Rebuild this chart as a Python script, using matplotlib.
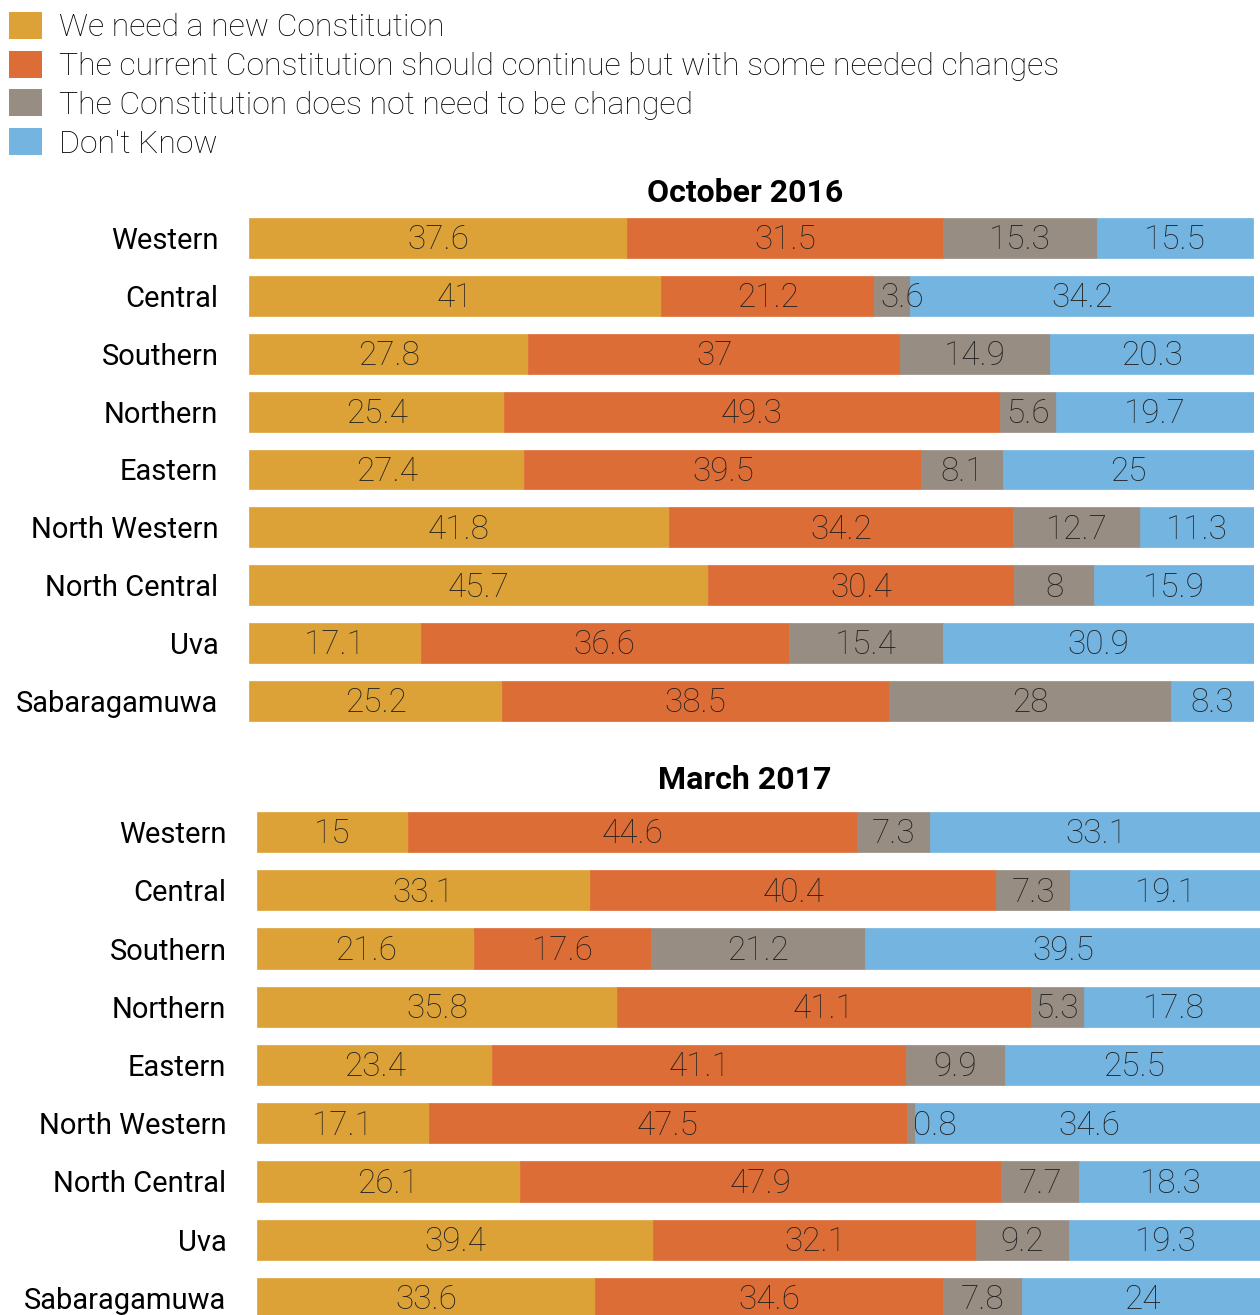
import matplotlib
matplotlib.use("Agg")
import matplotlib.pyplot as plt
from matplotlib.patches import Patch
import numpy as np

plt.rcParams['font.family'] = ['Roboto', 'DejaVu Sans']

series = ["We need a new Constitution",
          "The current Constitution should continue but with some needed changes",
          "The Constitution does not need to be changed",
          "Don't Know"]
colors = ["#DCA237", "#DD6D36", "#978D83", "#74B4E0"]
regions = ["Western", "Central", "Southern", "Northern", "Eastern",
           "North Western", "North Central", "Uva", "Sabaragamuwa"]

oct_new = [37.6, 41, 27.8, 25.4, 27.4, 41.8, 45.7, 17.1, 25.2]
oct_changes = [31.5, 21.2, 37, 49.3, 39.5, 34.2, 30.4, 36.6, 38.5]
oct_nochange = [15.3, 3.6, 14.9, 5.6, 8.1, 12.7, 8, 15.4, 28]
oct_dk = [15.5, 34.2, 20.3, 19.7, 25, 11.3, 15.9, 30.9, 8.3]

mar_new = [15, 33.1, 21.6, 35.8, 23.4, 17.1, 26.1, 39.4, 33.6]
mar_changes = [44.6, 40.4, 17.6, 41.1, 41.1, 47.5, 47.9, 32.1, 34.6]
mar_nochange = [7.3, 7.3, 21.2, 5.3, 9.9, 0.8, 7.7, 9.2, 7.8]
mar_dk = [33.1, 19.1, 39.5, 17.8, 25.5, 34.6, 18.3, 19.3, 24]

W, H = 1260, 1315
fig = plt.figure(figsize=(W / 100, H / 100), dpi=100)


def panel(rect, data, title, title_y):
    ax = fig.add_axes(rect)
    y = np.arange(len(regions))
    left = np.zeros(len(regions))
    for vals, col in zip(data, colors):
        vals = np.array(vals, dtype=float)
        ax.barh(y, vals, left=left, height=0.69, color=col, edgecolor=col, linewidth=0.5)
        for yi, (l, v) in enumerate(zip(left, vals)):
            if v < 5:
                ax.text(l + 0.6, yi + 0.04, f"{v:g}", ha='left', va='center',
                        fontsize=24, color='#222222', fontweight='light')
            else:
                ax.text(l + v / 2, yi + 0.04, f"{v:g}", ha='center', va='center',
                        fontsize=24, color='#222222', fontweight='light')
        left = left + vals
    ax.set_xlim(0, 100)
    ax.set_ylim(len(regions) - 0.5, -0.5)
    ax.set_yticks(y)
    ax.set_yticklabels(regions, fontsize=21, fontweight='normal')
    ax.tick_params(axis='y', length=0, pad=22)
    ax.set_xticks([])
    for s in ax.spines.values():
        s.set_visible(False)
    fig.text(745 / W, title_y, title, ha='center', va='center', fontsize=23, fontweight='bold')
    return ax


panel([249 / W, 1 - 730 / H, 1005 / W, 521 / H],
      [oct_new, oct_changes, oct_nochange, oct_dk], "October 2016", 1 - 193 / H)
panel([257 / W, 1 - 1327 / H, 1006 / W, 524 / H],
      [mar_new, mar_changes, mar_nochange, mar_dk], "March 2017", 1 - 780 / H)

handles = [Patch(facecolor=c, edgecolor='none') for c in colors]
fig.legend(handles, series, loc='upper left', bbox_to_anchor=(0.002, 1 - 5.5 / H),
           frameon=False, handlelength=1.03, handleheight=0.92,
           handletextpad=0.55, labelspacing=0.26, borderpad=0.2, borderaxespad=0,
           prop={'weight': 'light', 'size': 23})

fig.savefig("out.png", dpi=100)
